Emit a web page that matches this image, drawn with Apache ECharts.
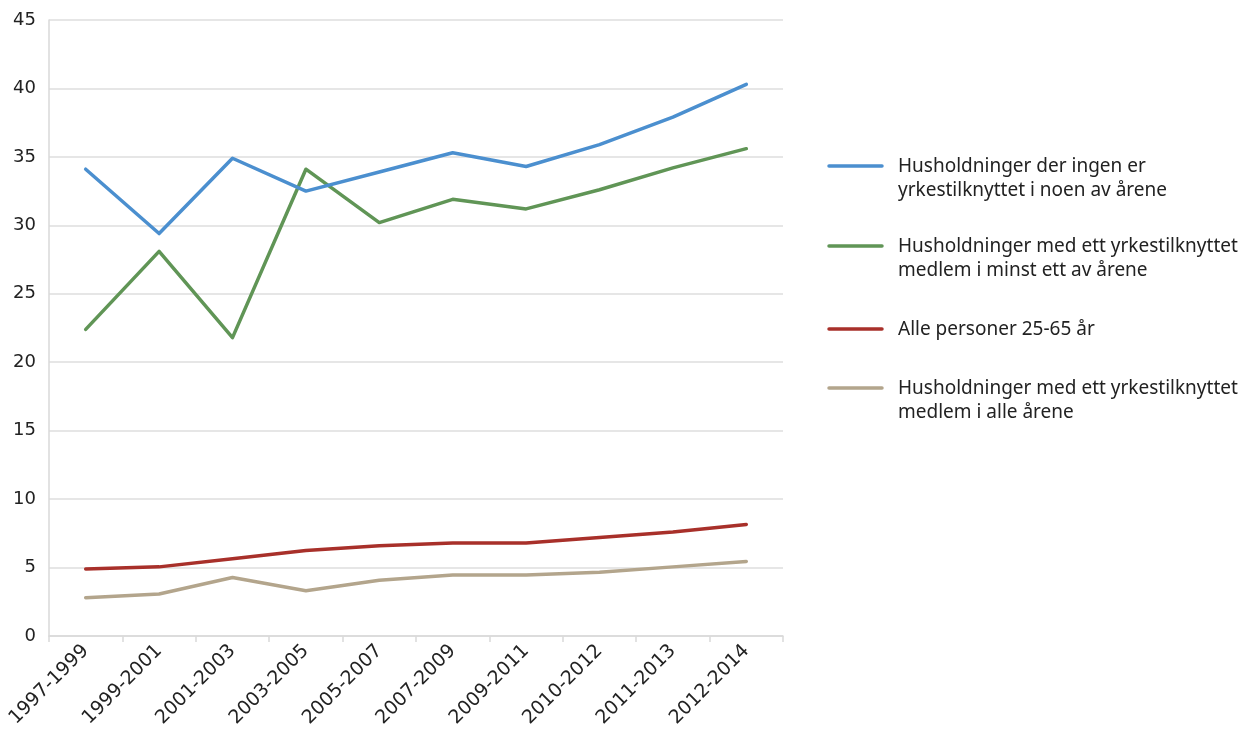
<!DOCTYPE html>
<html>
<head>
<meta charset="utf-8">
<script src="https://cdn.jsdelivr.net/npm/echarts@6/dist/echarts.min.js"></script>
<style>
  html, body { margin: 0; padding: 0; background: #fff; }
  #chart { width: 1242px; height: 736px; }
</style>
</head>
<body>
<div id="chart"></div>
<script>
const periods = ['1997-1999', '1999-2001', '2001-2003', '2003-2005', '2005-2007',
  '2007-2009', '2009-2011', '2010-2012', '2011-2013', '2012-2014']

const seriesNames = [
  'Husholdninger der ingen er\nyrkestilknyttet i noen av årene',
  'Husholdninger med ett yrkestilknyttet\nmedlem i minst ett av årene',
  'Alle personer 25-65 år',
  'Husholdninger med ett yrkestilknyttet\nmedlem i alle årene'
]

const ingen = [34.1, 29.4, 34.9, 32.5, 33.9, 35.3, 34.3, 35.9, 37.9, 40.3]
const minstEtt = [22.4, 28.1, 21.8, 34.1, 30.2, 31.9, 31.2, 32.6, 34.2, 35.6]
const allePersoner = [4.9, 5.05, 5.65, 6.25, 6.6, 6.8, 6.8, 7.2, 7.6, 8.15]
const alleAarene = [2.8, 3.07, 4.27, 3.3, 4.07, 4.45, 4.45, 4.65, 5.05, 5.45]

const colors = ['#4b8fcf', '#609556', '#a8302a', '#b3a58c']
const yTicks = { min: 0, max: 45, interval: 5 }

const chart = echarts.init(document.getElementById('chart'))

// legend drawn by hand so the line sits on the first text row
const legendTop = [155, 235, 318, 377]
const legendGraphics = []
seriesNames.forEach((name, i) => {
  legendGraphics.push({
    type: 'line',
    shape: { x1: 829, y1: legendTop[i] + 11, x2: 882, y2: legendTop[i] + 11 },
    style: { stroke: colors[i], lineWidth: 3.5, lineCap: 'round' }
  })
  legendGraphics.push({
    type: 'text',
    left: 898,
    top: legendTop[i],
    style: {
      text: name,
      font: '19px "Noto Sans"',
      lineHeight: 24,
      fill: '#222'
    }
  })
})

chart.setOption({
  backgroundColor: '#fff',
  animation: false,
  grid: { left: 49, right: 459, top: 20, bottom: 100, containLabel: false },
  xAxis: {
    type: 'category',
    data: periods,
    boundaryGap: true,
    axisLine: { lineStyle: { color: '#d9d9d9', width: 1.5 } },
    axisTick: { show: true, alignWithLabel: false, length: 6, lineStyle: { color: '#d9d9d9', width: 1.5 } },
    axisLabel: {
      rotate: 45,
      margin: 12,
      fontSize: 19,
      fontFamily: 'DejaVu Sans',
      color: '#222',
      interval: 0
    }
  },
  yAxis: {
    type: 'value',
    min: yTicks.min,
    max: yTicks.max,
    interval: yTicks.interval,
    axisLine: { show: true, lineStyle: { color: '#d9d9d9', width: 1.5 } },
    axisTick: { show: false },
    splitLine: { lineStyle: { color: '#dedede', width: 1.5 } },
    axisLabel: {
      margin: 13,
      fontSize: 18,
      fontFamily: 'DejaVu Sans',
      color: '#222'
    }
  },
  graphic: legendGraphics,
  series: [ingen, minstEtt, allePersoner, alleAarene].map((data, i) => ({
    name: seriesNames[i],
    type: 'line',
    data: data,
    symbol: 'none',
    lineStyle: { color: colors[i], width: 3.5, cap: 'round', join: 'round' },
    itemStyle: { color: colors[i] },
    z: 10 - i
  }))
})
</script>
</body>
</html>
